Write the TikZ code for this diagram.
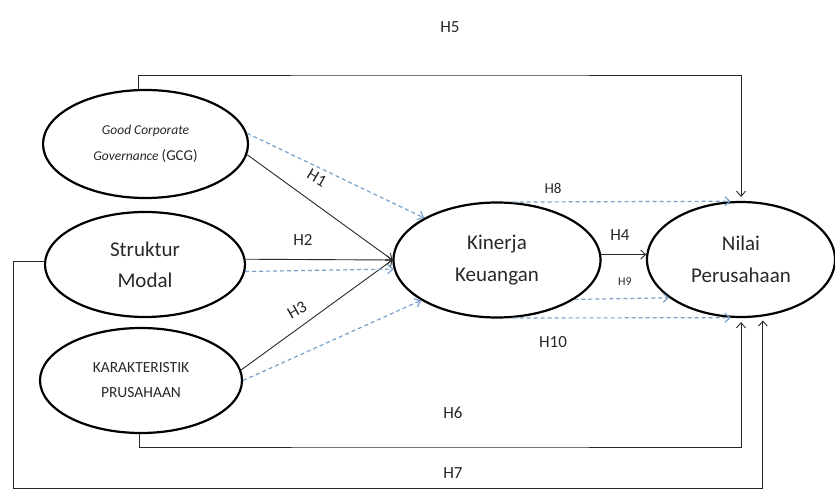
\documentclass[tikz,border=0pt]{standalone}
\usepackage{fontspec}
\setmainfont{Carlito}
\usetikzlibrary{arrows.meta,shapes.geometric}
\definecolor{hypblue}{RGB}{122,160,202}
\definecolor{inkgray}{RGB}{40,40,40}

\begin{document}
\begin{tikzpicture}[x=1pt,y=-1pt,>={Straight Barb[length=5pt,width=9pt]},
	var node/.style={ellipse,draw,line width=2.2pt,inner sep=0pt,align=center,text=inkgray},
	path line/.style={->,line width=0.9pt,inkgray},
	dash line/.style={->,line width=1.2pt,hypblue,dash pattern=on 4pt off 3pt},
	hyp label/.style={text=inkgray,font=\fontsize{17}{17}\selectfont}]
	\useasboundingbox (0,0) rectangle (835,489);
	% variables
	\node[var node,minimum width=205pt,minimum height=108pt,font=\fontsize{13.5}{26}\selectfont] (gcg) at (145.5,144) {\textit{Good Corporate}\\\textit{Governance} {\fontsize{15}{26}\selectfont(GCG)}};
	\node[var node,minimum width=200pt,minimum height=105pt,font=\fontsize{21}{31}\selectfont] (smod) at (145,264.5) {Struktur\\Modal};
	\node[var node,minimum width=202pt,minimum height=105pt,font=\fontsize{15.5}{25}\selectfont] (kar) at (141,380.5) {KARAKTERISTIK\\PRUSAHAAN};
	\node[var node,minimum width=207pt,minimum height=115pt,font=\fontsize{21}{32}\selectfont] (kin) at (497,260) {Kinerja\\Keuangan};
	\node[var node,minimum width=188pt,minimum height=115pt,font=\fontsize{21}{32}\selectfont] (nil) at (741,259.5) {Nilai\\Perusahaan};
	% rails for the long paths
	\coordinate (toprail) at (440,75);
	\coordinate (h6rail) at (440,447);
	\coordinate (h7rail) at (13,488.6);
	% direct paths
	\path[path line]
		(gcg.-6) edge (kin.west)
		(smod.3) edge (kin.west)
		(kar.6) edge (kin.west)
		(kin.3) edge (nil.177);
	\path[dash line]
		(gcg.6) edge (kin.150)
		(smod.-4) edge (kin.185)
		(kar.east) edge (kin.208)
		(kin.75) edge (nil.100)
		(kin.-27) edge (nil.208)
		(kin.-75) edge (nil.-100);
	% paths round the outside
	\draw[path line,shorten >=4pt] (gcg.97) |- (toprail) -| (nil.north);
	\draw[path line,shorten >=4pt] (kar.-92) |- (h6rail) -| (nil.south);
	\draw[path line,shorten >=4pt] (smod.178) -| (h7rail) -| (nil.-69);
	% labels
	\node[hyp label] (l5) at (450,27) {H5};
	\node[hyp label,rotate=-30] (l1) at (317,178) {H1};
	\node[hyp label] (l2) at (303,240) {H2};
	\node[hyp label,rotate=30] (l3) at (297,310) {H3};
	\node[hyp label] (l4) at (620,235) {H4};
	\node[hyp label,font=\fontsize{15}{15}\selectfont] (l8) at (553,188) {H8};
	\node[hyp label,font=\fontsize{12}{12}\selectfont] (l9) at (625,282) {H9};
	\node[hyp label] (l10) at (553,342) {H10};
	\node[hyp label] (l6) at (453,413) {H6};
	\node[hyp label] (l7) at (453,473) {H7};
\end{tikzpicture}
\end{document}
